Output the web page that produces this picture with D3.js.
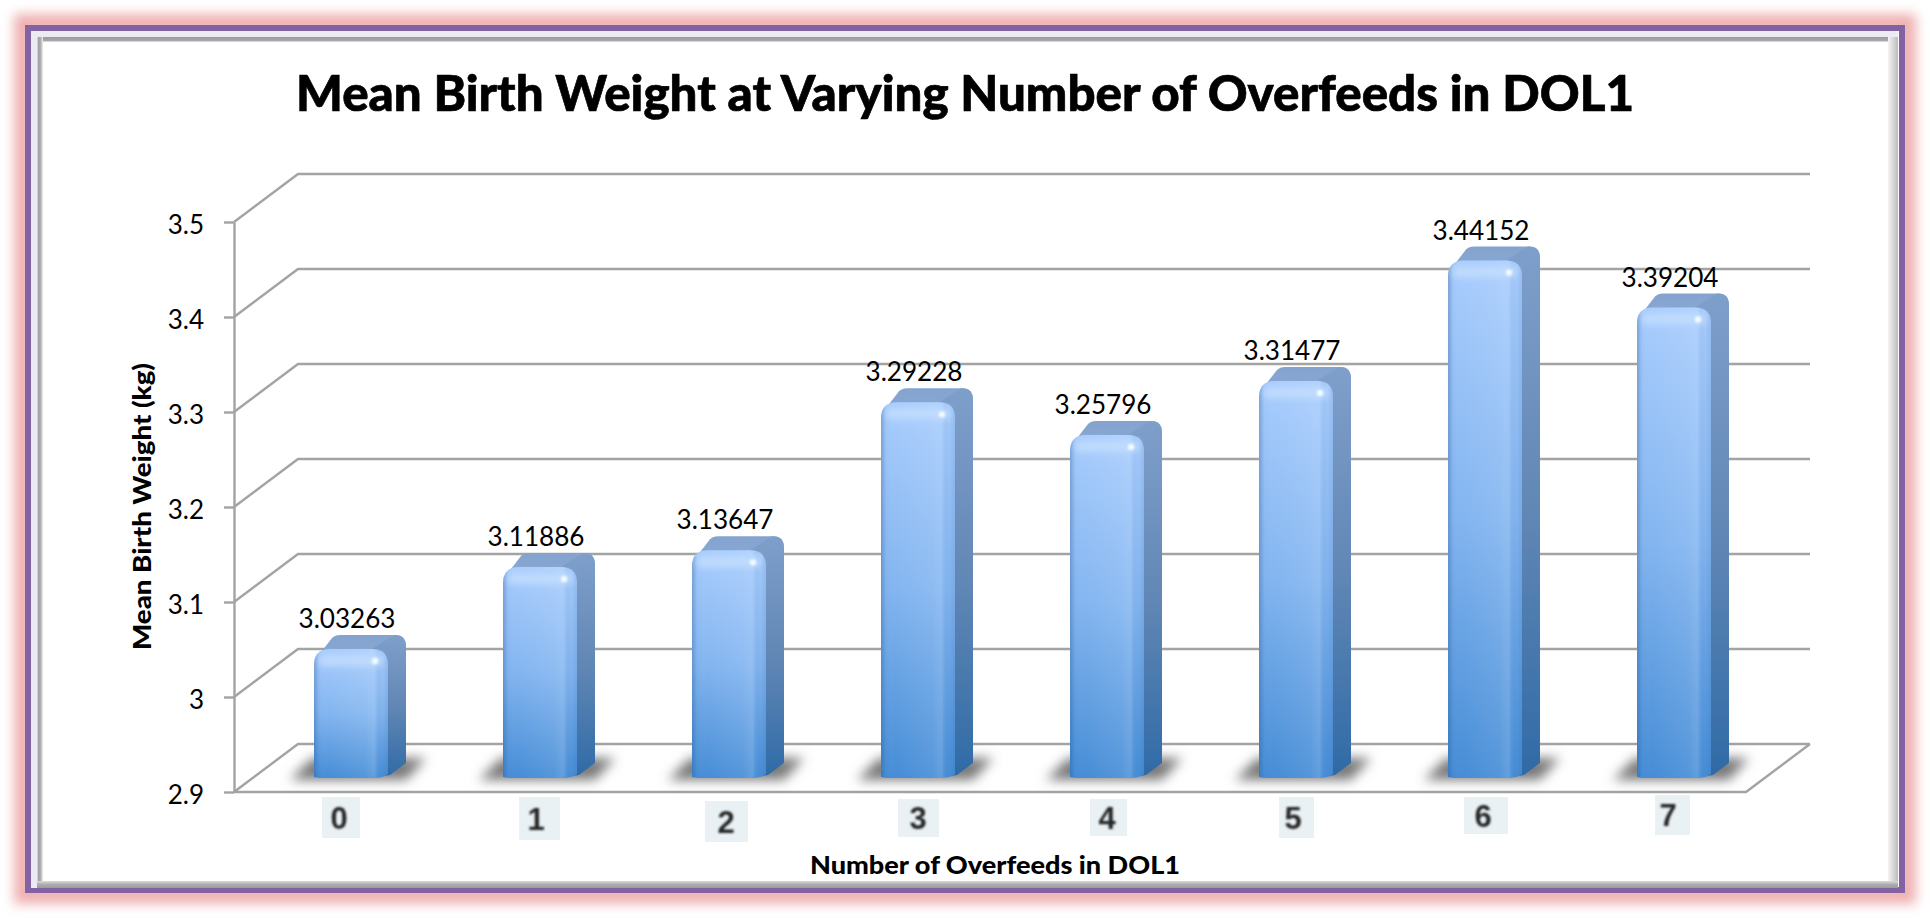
<!DOCTYPE html>
<html><head><meta charset="utf-8">
<script src="https://cdn.jsdelivr.net/npm/d3@7/dist/d3.min.js"></script>
<style>html,body{margin:0;padding:0;background:#fff;overflow:hidden}svg{display:block}text{font-family:Lato,"Open Sans",sans-serif;fill:#000}</style>
</head><body><script>
const categories = ["0","1","2","3","4","5","6","7"];
const meanWeights = [3.03263,3.11886,3.13647,3.29228,3.25796,3.31477,3.44152,3.39204];
const weightTicks = [2.9,3,3.1,3.2,3.3,3.4,3.5];
const titleText = "Mean Birth Weight at Varying Number of Overfeeds in DOL1";
const yTitleText = "Mean Birth Weight (kg)";
const xTitleText = "Number of Overfeeds in DOL1";

const W=1930,H=919;
const svg=d3.select("body").append("svg").attr("width",W).attr("height",H);
const defs=svg.append("defs");
const x=d3.scaleBand().domain(categories).range([234,1746]);
const y=d3.scaleLinear().domain([2.9,3.5]).range([792,222]);
const wall={dx:64,dy:-48};
const bar={width:74,side:18,rise:14,baseY:778,lift:17,r:16};

function grad(id,x2,y2,stops){const g=defs.append("linearGradient").attr("id",id).attr("x1",0).attr("y1",0).attr("x2",x2).attr("y2",y2);
 stops.forEach(s=>g.append("stop").attr("offset",s[0]).attr("stop-color",s[1]).attr("stop-opacity",s[2]===undefined?1:s[2]));}
grad("front",0,1,[[0,"#a9cdfd"],[.5,"#83b5f0"],[1,"#468dd6"]]);
grad("sheen",1,0,[[0,"#1d4f8c",.32],[.07,"#1d4f8c",.03],[.2,"#fff",0],[.7,"#fff",.08],[.82,"#cfe4ff",.2],[.92,"#1d4f8c",.02],[1,"#1d4f8c",.12]]);
grad("side",0,1,[[0,"#7f9fcb"],[.5,"#6187b5"],[1,"#2f6aa6"]]);
grad("topf",0,1,[[0,"#84a3cf"],[1,"#89a9d4"]]);
grad("rframe",1,0,[[0,"#f4f4f4"],[1,"#bcbcbc"]]);
grad("bframe",0,1,[[0,"#dadada"],[.5,"#adadad"],[1,"#9c9c9c"]]);
grad("tframe",0,1,[[0,"#9a9a9a"],[.7,"#a8a8a8"],[1,"#ececec"]]);
grad("lframe",1,0,[[0,"#f4f4f4"],[.2,"#a0a0a0"],[.6,"#b0b0b0"],[1,"#f0f0f0"]]);
const f=(id,s)=>defs.append("filter").attr("id",id).attr("filterUnits","userSpaceOnUse").attr("x",0).attr("y",0).attr("width",W).attr("height",H)
  .append("feGaussianBlur").attr("stdDeviation",s);
f("glow",6);f("shadow",6);f("band",3);f("star",1.2);f("soft",.8);f("barSoft",.6);

// frame
const frame=svg.append("g");
frame.append("rect").attr("x",23).attr("y",23).attr("width",1884).attr("height",872).attr("fill","none").attr("stroke","#efb0b0").attr("stroke-width",18).attr("filter","url(#glow)");
frame.append("rect").attr("x",28).attr("y",28).attr("width",1874).attr("height",862).attr("fill","#fff").attr("stroke","#8262a2").attr("stroke-width",6);
frame.append("rect").attr("x",31).attr("y",31).attr("width",1867).attr("height",6).attr("fill","#eceaf3");
frame.append("rect").attr("x",31).attr("y",31).attr("width",6).attr("height",857).attr("fill","#eceaf3");
frame.append("rect").attr("x",37).attr("y",37).attr("width",1853).attr("height",5).attr("fill","url(#tframe)");
frame.append("rect").attr("x",37).attr("y",37).attr("width",6).attr("height",845).attr("fill","url(#lframe)");
frame.append("rect").attr("x",1888).attr("y",37).attr("width",10).attr("height",851).attr("fill","url(#rframe)");
frame.append("rect").attr("x",37).attr("y",881).attr("width",1861).attr("height",7).attr("fill","url(#bframe)");

// walls and floor
const gridColor="#a3a3a3",gridW=2.4;
const grid=svg.append("g").attr("fill","none").attr("stroke",gridColor).attr("stroke-width",gridW);
const [x0,x1]=x.range();
grid.selectAll("path.wall").data(weightTicks).join("path").attr("class","wall")
  .attr("d",t=>d3.line()([[x0,y(t)],[x0+wall.dx,y(t)+wall.dy],[x1+wall.dx,y(t)+wall.dy]]));
grid.append("path").attr("d",d3.line()([[x0,y(2.9)],[x1,y(2.9)],[x1+wall.dx,y(2.9)+wall.dy]]));

// y axis
const yAxis=svg.append("g").attr("transform",`translate(${x0},0)`)
  .call(d3.axisLeft(y).tickValues(weightTicks).tickFormat(d=>String(d)).tickSize(10).tickPadding(20).tickSizeOuter(0));
yAxis.selectAll("path,line").attr("stroke",gridColor).attr("stroke-width",gridW);
yAxis.selectAll("text").attr("font-size",26).attr("dy","0.44em").style("font-family","Lato");

// bars
const rows=categories.map((c,i)=>({c,v:meanWeights[i]}));
rows.forEach(d=>{d.l=x(d.c)+80;d.r=d.l+bar.width;d.t=y(d.v)-bar.lift;});
svg.append("g").selectAll("path").data(rows).join("path")
  .attr("d",d=>d3.line()([[d.l-24,bar.baseY+2],[d.l-2,bar.baseY-20],[d.r+38,bar.baseY-20],[d.r+18,bar.baseY+2]])).attr("fill","#6a6a6a").attr("fill-opacity",.9).attr("filter","url(#shadow)");
const barG=svg.append("g").attr("filter","url(#barSoft)");
const sx=bar.side,rs=bar.rise,R=bar.r;
barG.selectAll("path.topface").data(rows).join("path").attr("class","topface")
  .attr("d",d=>`M${d.l+1},${d.t+11}L${d.l+sx},${d.t-rs+3}Q${d.l+sx+3},${d.t-rs} ${d.l+sx+8},${d.t-rs}L${d.r+sx-10},${d.t-rs}Q${d.r+sx},${d.t-rs} ${d.r+sx},${d.t-rs+12}L${d.r},${d.t+12}Z`).attr("fill","url(#topf)");
barG.selectAll("path.sideface").data(rows).join("path").attr("class","sideface")
  .attr("d",d=>`M${d.r-R},${d.t}L${d.r+sx-12},${d.t-rs}Q${d.r+sx},${d.t-rs} ${d.r+sx},${d.t-rs+12}L${d.r+sx},${bar.baseY-15}L${d.r+2},${bar.baseY-3}L${d.r-R},${bar.baseY}Z`).attr("fill","url(#side)");
const frontPath=d=>`M${d.l},${bar.baseY-1}L${d.l},${d.t+R}Q${d.l},${d.t} ${d.l+R},${d.t}L${d.r-R},${d.t}Q${d.r},${d.t} ${d.r},${d.t+R}L${d.r},${bar.baseY-4}Q${d.r-4},${bar.baseY} ${d.r-16},${bar.baseY}L${d.l+6},${bar.baseY}Z`;
barG.selectAll("path.front").data(rows).join("path").attr("class","front").attr("d",frontPath).attr("fill","url(#front)");
barG.selectAll("path.sheen").data(rows).join("path").attr("class","sheen").attr("d",frontPath).attr("fill","url(#sheen)");
barG.selectAll("rect.band").data(rows).join("rect").attr("class","band")
  .attr("x",d=>d.l+5).attr("y",d=>d.t+6).attr("width",bar.width-10).attr("height",11).attr("rx",4)
  .attr("fill","#c4defe").attr("fill-opacity",.8).attr("filter","url(#band)");
barG.selectAll("circle.star").data(rows).join("circle").attr("class","star")
  .attr("cx",d=>d.r-13).attr("cy",d=>d.t+12).attr("r",3.2).attr("fill","#f2fbff").attr("filter","url(#star)");

// value labels
svg.append("g").selectAll("text").data(rows).join("text")
  .attr("x",d=>d.l+33).attr("y",d=>d.t-rs-7).attr("text-anchor","middle")
  .attr("font-size",27).attr("textLength",97).attr("lengthAdjust","spacingAndGlyphs").text(d=>d.v.toFixed(5));

// pasted category labels: offset from band start, pale backing box
const tagLayout=[
 {cx:105,x0:88,x1:126,y0:797,y1:838},{cx:113,x0:96,x1:137,y0:797,y1:840},
 {cx:114,x0:93,x1:136,y0:801,y1:842},{cx:117,x0:97,x1:138,y0:799,y1:837},
 {cx:117,x0:100,x1:137,y0:799,y1:836},{cx:114,x0:100,x1:135,y0:797,y1:838},
 {cx:115,x0:96,x1:140,y0:797,y1:834},{cx:111,x0:98,x1:133,y0:795,y1:835}];
const tags=svg.append("g").selectAll("g").data(categories).join("g");
tags.append("rect").attr("x",(c,i)=>x(c)+tagLayout[i].x0).attr("y",(c,i)=>tagLayout[i].y0)
  .attr("width",(c,i)=>tagLayout[i].x1-tagLayout[i].x0).attr("height",(c,i)=>tagLayout[i].y1-tagLayout[i].y0).attr("fill","#e9f1f4");
tags.append("text").attr("x",(c,i)=>x(c)+tagLayout[i].cx).attr("y",(c,i)=>(tagLayout[i].y0+tagLayout[i].y1)/2+11)
  .attr("text-anchor","middle").attr("font-size",31).attr("font-weight",700).attr("filter","url(#soft)")
  .style("font-family","Liberation Sans").style("fill","#262626").text(c=>c);

// titles
svg.append("text").attr("x",296).attr("y",111).attr("font-size",50).attr("font-weight",900)
  .attr("stroke","#000").attr("stroke-width",.7)
  .attr("textLength",1338).attr("lengthAdjust","spacingAndGlyphs").text(titleText);
svg.append("text").attr("x",810).attr("y",874).attr("font-size",25).attr("font-weight",900)
  .attr("textLength",370).attr("lengthAdjust","spacingAndGlyphs").text(xTitleText);
svg.append("text").attr("transform","translate(151,650) rotate(-90)").attr("font-size",25).attr("font-weight",900)
  .attr("textLength",287).attr("lengthAdjust","spacingAndGlyphs").text(yTitleText);
</script></body></html>
